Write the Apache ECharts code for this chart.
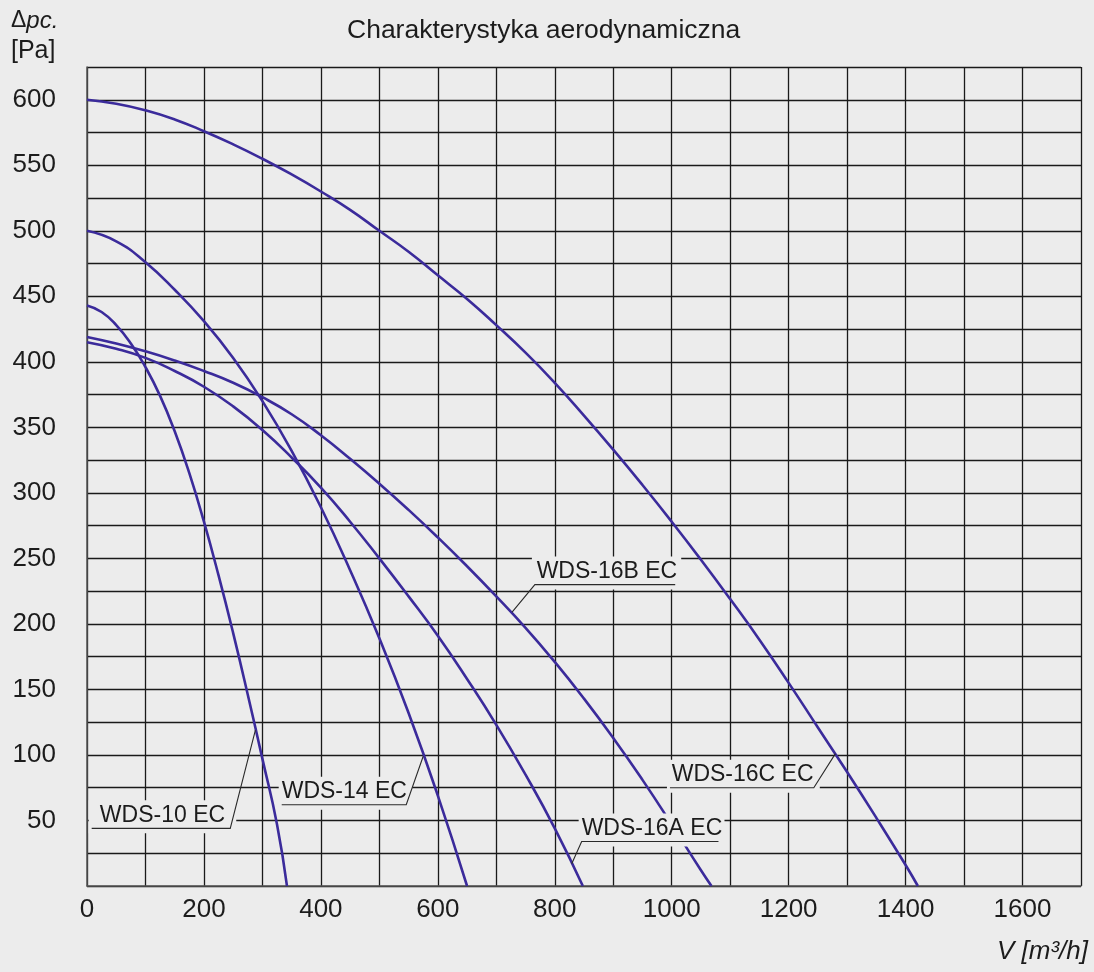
<!DOCTYPE html>
<html>
<head>
<meta charset="utf-8">
<script src="https://cdn.jsdelivr.net/npm/echarts@6/dist/echarts.min.js"></script>
<style>
html,body{margin:0;padding:0;background:#ececec;}
#chart{width:1094px;height:972px;}
</style>
</head>
<body>
<div id="chart"></div>
<script>
// ---------- data ----------
const titleText = 'Charakterystyka aerodynamiczna';
const yUnitLine1 = 'Δ';
const yUnitLine1b = 'pc.';
const yUnitLine2 = '[Pa]';
const xName = 'V [m³/h]';

const seriesNames = ['WDS-10 EC', 'WDS-14 EC', 'WDS-16A EC', 'WDS-16B EC', 'WDS-16C EC'];

// [V m3/h, dp Pa]
const wds10 = [[0,443],[25,438],[50,428],[75,414],[100,396],[125,374],[150,347],[175,315],[200,278],[225,237],[250,193],[275,146],[300,97],[325,47],[342,0]];
const wds14 = [[0,500],[50,492],[100,476],[150,455],[200,431],[250,403],[300,370],[350,332],[400,289],[450,241],[500,189],[550,132],[600,69],[650,0]];
const wds16A = [[0,415],[50,410],[100,403],[150,393],[200,381],[250,366],[300,348],[350,327],[400,304],[450,278],[500,250],[550,221],[600,191],[650,158],[700,123],[750,85],[800,44],[848,0]];
const wds16B = [[0,419],[50,414],[100,408],[150,401],[200,393],[250,384],[300,373],[350,360],[400,344],[450,326],[500,307],[550,287],[600,266],[650,244],[700,221],[750,197],[800,171],[850,143],[900,113],[950,81],[1000,47],[1050,12],[1068,0]];
const wds16C = [[0,600],[50,597],[100,592],[150,585],[200,576],[250,566],[300,555],[350,543],[400,530],[450,516],[500,500],[550,484],[600,466],[650,448],[700,428],[750,407],[800,384],[850,359],[900,333],[950,306],[1000,278],[1050,249],[1100,219],[1150,188],[1200,155],[1250,121],[1300,87],[1350,52],[1400,16],[1421,0]];

// axis ranges / ticks
const xMin = 0, xMax = 1700, xStep = 100, xLabelStep = 200;
const yMin = 0, yMax = 625, yStep = 25, yLabelStep = 50;

// label annotations in data units: [anchorV, anchorP, elbowV, lineP, otherEndV, textStartV]
const labelAnn = [
  [288, 119, 245, 44, 8, 22],     // WDS-10 EC
  [575, 99, 546, 62, 333, 333],   // WDS-14 EC
  [829, 17, 846, 34, 1080, 846],  // WDS-16A EC
  [727, 209, 766, 230, 1006, 769],// WDS-16B EC
  [1280, 101, 1243, 75, 997, 1000]// WDS-16C EC
];
const labelTexts = ['WDS-10 EC', 'WDS-14 EC', 'WDS-16A EC', 'WDS-16B EC', 'WDS-16C EC'];

// ---------- chart ----------
const FONT = '"Liberation Sans", Arial, Helvetica, sans-serif';
const BG = '#ececec';
const INK = '#1c1c1c';
const CURVE = '#3b2b9b';

const chart = echarts.init(document.getElementById('chart'), null, {renderer: 'canvas'});

const curveData = [wds10, wds14, wds16A, wds16B, wds16C];
const lineSeries = curveData.map((d, i) => ({
  name: seriesNames[i],
  type: 'line',
  data: d,
  smooth: 0.5,
  showSymbol: false,
  symbol: 'none',
  lineStyle: {color: CURVE, width: 2.6},
  z: 3,
  silent: true
}));

function renderLabel(params, api) {
  const i = params.dataIndex;
  const a = api.coord([api.value(0), api.value(1)]);
  const e = api.coord([api.value(2), api.value(3)]);
  const o = api.coord([api.value(4), api.value(3)]);
  const t = api.coord([api.value(5), api.value(3)]);
  const x0 = Math.min(e[0], o[0]);
  const x1 = Math.max(e[0], o[0]);
  const y = e[1];
  return {
    type: 'group',
    children: [
      {type: 'rect', shape: {x: x0 - 3, y: y - 28, width: x1 - x0 + 9, height: 33}, style: {fill: BG}},
      {type: 'text', style: {text: labelTexts[i], x: t[0], y: y - 1.5, font: '23px ' + FONT, fill: INK, align: 'left', verticalAlign: 'bottom'}},
      {type: 'polyline', shape: {points: [o, e, a]}, style: {stroke: '#2a2a2a', lineWidth: 1.1, fill: null}}
    ]
  };
}

const option = {
  backgroundColor: BG,
  animation: false,
  title: {
    text: titleText,
    left: 342,
    top: 12,
    textStyle: {fontFamily: FONT, fontSize: 26.5, fontWeight: 'normal', color: INK}
  },
  grid: {left: 87, right: 13, top: 67, bottom: 86, containLabel: false},
  xAxis: {
    type: 'value',
    min: xMin, max: xMax, interval: xStep,
    axisLine: {show: true, lineStyle: {color: '#555', width: 1.5}},
    axisTick: {show: false},
    axisLabel: {
      margin: 11,
      fontFamily: FONT, fontSize: 26, color: INK,
      formatter: v => (v % xLabelStep === 0 && v < xMax) ? String(v) : ''
    },
    splitLine: {show: true, lineStyle: {color: '#1a1a1a', width: 1.3}}
  },
  yAxis: {
    type: 'value',
    min: yMin, max: yMax, interval: yStep,
    axisLine: {show: true, lineStyle: {color: '#555', width: 1.5}},
    axisTick: {show: false},
    axisLabel: {
      margin: 31,
      fontFamily: FONT, fontSize: 26, color: INK,
      formatter: v => (v % yLabelStep === 0 && v > 0 && v < yMax) ? String(v) : ''
    },
    splitLine: {show: true, lineStyle: {color: '#1a1a1a', width: 1.3}}
  },
  graphic: [
    {
      type: 'text', left: 11, top: 9,
      style: {
        text: '{d|' + yUnitLine1 + '}{i|' + yUnitLine1b + '}\n{n|' + yUnitLine2 + '}',
        rich: {
          d: {fontFamily: FONT, fontSize: 23, fill: INK, lineHeight: 30},
          i: {fontFamily: FONT, fontSize: 24, fontStyle: 'italic', fill: INK, lineHeight: 30},
          n: {fontFamily: FONT, fontSize: 25, fill: INK, lineHeight: 30}
        }
      }
    },
    {
      type: 'text', right: 6, top: 939,
      style: {text: xName, font: 'italic 26px ' + FONT, fill: INK}
    }
  ],
  series: lineSeries.concat([{
    type: 'custom',
    coordinateSystem: 'cartesian2d',
    renderItem: renderLabel,
    data: labelAnn,
    clip: false,
    silent: true,
    z: 10
  }])
};

chart.setOption(option);
</script>
</body>
</html>
